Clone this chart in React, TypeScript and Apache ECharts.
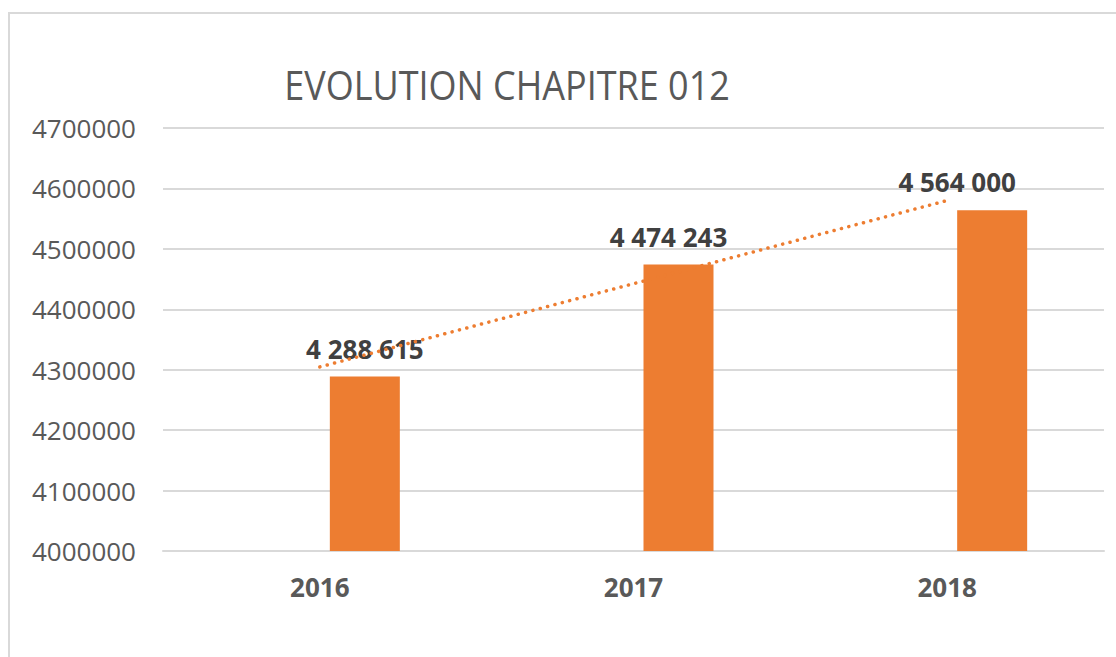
import React, { useEffect, useRef } from "react";
import * as echarts from "echarts";

const years: string[] = ["2016", "2017", "2018"];
const amounts: number[] = [4288615, 4474243, 4564000];
const trend: number[] = [4304600, 4442300, 4580000];
const emptySeries: (number | string)[] = ["-", "-", "-"];
const yMin = 4000000;
const yMax = 4700000;
const yStep = 100000;
const titleText = "EVOLUTION CHAPITRE 012";

const labelOffsets: [number, number][] = [
  [0, 0],
  [-10, 1],
  [-35, 0],
];

const fmtSpace = (v: number) =>
  String(v).replace(/\B(?=(\d{3})+(?!\d))/g, " ");

export default function App() {
  const ref = useRef<HTMLDivElement>(null);
  useEffect(() => {
    if (!ref.current) return;
    const chart = echarts.init(ref.current, null, { renderer: "svg" });
    const font = "'Open Sans', 'Noto Sans', sans-serif";
    chart.setOption({
      animation: false,
      backgroundColor: "#ffffff",
      graphic: [
        {
          type: "rect",
          shape: { x: 9, y: 13, width: 1300, height: 1000 },
          style: { fill: "none", stroke: "#d9d9d9", lineWidth: 2 },
          silent: true,
        },
        {
          type: "text",
          x: 507,
          y: 84,
          scaleX: 0.9,
          style: {
            text: titleText,
            x: 0,
            y: 0,
            align: "center",
            verticalAlign: "middle",
            fontFamily: font,
            fontSize: 40,
            fill: "#595959",
          },
        },
      ],
      grid: { left: 163, right: 12, top: 128, bottom: 106, containLabel: false },
      xAxis: {
        type: "category",
        data: years,
        axisLine: { show: true, lineStyle: { color: "#d9d9d9", width: 2 } },
        axisTick: { show: false },
        axisLabel: {
          margin: 23,
          fontFamily: font,
          fontSize: 26,
          fontWeight: "bold",
          color: "#595959",
        },
      },
      yAxis: {
        type: "value",
        min: yMin,
        max: yMax,
        interval: yStep,
        axisLine: { show: false },
        axisTick: { show: false },
        splitLine: { lineStyle: { color: "#d9d9d9", width: 2 } },
        axisLabel: {
          margin: 27,
          fontFamily: font,
          fontSize: 26,
          color: "#595959",
          formatter: (v: number) => String(v),
        },
      },
      series: [
        {
          name: "vide",
          type: "bar",
          data: emptySeries,
          barWidth: 70,
          barGap: "28.57%",
          silent: true,
        },
        {
          name: "Chapitre 012",
          type: "bar",
          barWidth: 70,
          barGap: "28.57%",
          itemStyle: { color: "#ED7D31" },
          data: amounts.map((v, i) => ({
            value: v,
            label: { offset: labelOffsets[i] },
          })),
          label: {
            show: true,
            position: "top",
            distance: 15,
            fontFamily: font,
            fontSize: 26,
            fontWeight: "bold",
            color: "#404040",
            formatter: (p: any) => fmtSpace(p.value),
          },
          z: 2,
        },
        {
          name: "Tendance",
          type: "line",
          data: trend,
          symbol: "none",
          silent: true,
          z: 3,
          lineStyle: {
            color: "#ED7D31",
            width: 3.5,
            type: [0.1, 7.5],
            cap: "round",
          },
        },
      ],
    });
    return () => chart.dispose();
  }, []);
  return (
    <div
      ref={ref}
      style={{ position: "fixed", left: 0, top: 0, width: 1116, height: 657 }}
    />
  );
}
